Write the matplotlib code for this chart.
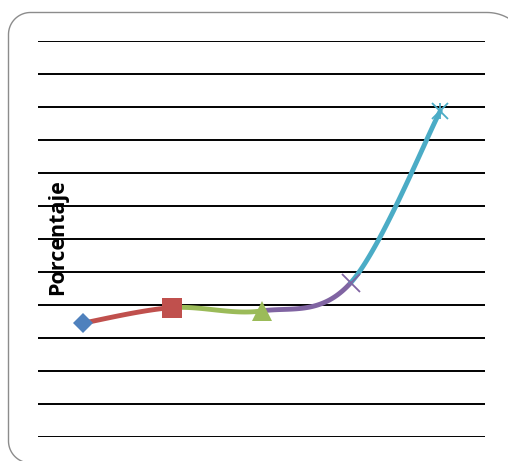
import numpy as np
import matplotlib
matplotlib.use("Agg")
import matplotlib.pyplot as plt

categories = ["A", "B", "C", "D", "E"]
values = [3.45, 3.92, 3.82, 4.68, 9.88]
point_colors = ["#4F81BD", "#C0504D", "#9BBB59", "#8064A2", "#4BACC6"]
markers = ["D", "s", "^", "x", "x"]
y_ticks = list(range(0, 13))
y_label = "Porcentaje"

W, H = 508, 461
fig = plt.figure(figsize=(W / 100, H / 100), dpi=100)

# background axes in pixel units (image coords, y down) for the rounded frame
bg = fig.add_axes([0, 0, 1, 1], zorder=-5)
bg.set_xlim(0, W)
bg.set_ylim(H, 0)
bg.axis("off")


def arc(cx, cy, r, a0, a1):
    a = np.radians(np.linspace(a0, a1, 30))
    return cx + r * np.cos(a), cy - r * np.sin(a)


L, T, R, B = 8.5, 12.5, 540, 463
r1, r2 = 22, 43
xs, ys = [], []
ax1, ay1 = arc(L + r1, B - r1, r1, 270, 180)   # bottom-left
xs += [R] + list(ax1)
ys += [B] + list(ay1)
ax2, ay2 = arc(L + r1, T + r1, r1, 180, 90)    # top-left
xs += list(ax2)
ys += list(ay2)
ax3, ay3 = arc(487, T + r2, r2, 90, 0)         # top-right
xs += list(ax3) + [R + r2 - 43 + 0]
ys += list(ay3) + [B]
bg.plot(xs, ys, color="#8c8c8c", linewidth=1.0)

ax = fig.add_axes([38 / W, (H - 437) / H, (485 - 38) / W, (437 - 41) / H])
ax.set_facecolor("none")
x = np.arange(len(categories))
y = np.array(values, dtype=float)
ax.set_xlim(-0.5, len(categories) - 0.5)
ax.set_ylim(y_ticks[0], y_ticks[-1])
ax.set_yticks(y_ticks)
ax.yaxis.grid(True, color="black", linewidth=1.4)
ax.set_axisbelow(True)
for s in ax.spines.values():
    s.set_visible(False)
ax.tick_params(left=False, bottom=False, labelleft=False, labelbottom=False)
ax.set_xticks([])


def bezier_segment(i):
    p0 = np.array([x[i], y[i]])
    p3 = np.array([x[i + 1], y[i + 1]])
    prev = np.array([x[i - 1], y[i - 1]]) if i > 0 else p0
    nxt = np.array([x[i + 2], y[i + 2]]) if i + 2 < len(x) else p3
    c1 = p0 + (p3 - prev) / 6.0
    c2 = p3 - (nxt - p0) / 6.0
    t = np.linspace(0, 1, 60)[:, None]
    pts = ((1 - t) ** 3) * p0 + 3 * ((1 - t) ** 2) * t * c1 + 3 * (1 - t) * t ** 2 * c2 + t ** 3 * p3
    return pts[:, 0], pts[:, 1]


for i in range(len(x) - 1):
    sx, sy = bezier_segment(i)
    ax.plot(sx, sy, color=point_colors[i + 1], linewidth=3.5,
            solid_capstyle="round", zorder=3)

sizes = [10, 14, 14, 13, 12]
for i in range(len(x)):
    if markers[i] == "x":
        ax.plot(x[i], y[i], marker="x", markersize=sizes[i], color=point_colors[i],
                markeredgewidth=1.3, linestyle="none", zorder=4, clip_on=False)
    else:
        ax.plot(x[i], y[i], marker=markers[i], markersize=sizes[i], color=point_colors[i],
                markeredgewidth=0, linestyle="none", zorder=4, clip_on=False)
# star marker: add vertical stroke
ax.plot(x[-1], y[-1], marker="|", markersize=12, color=point_colors[-1],
        markeredgewidth=1.3, linestyle="none", zorder=4, clip_on=False)

fig.text(58 / W, 1 - 237 / H, y_label, rotation=90, ha="center", va="center",
         fontsize=15.5, fontweight="bold", family=["Open Sans", "DejaVu Sans"])

fig.savefig("out.png", dpi=100)
